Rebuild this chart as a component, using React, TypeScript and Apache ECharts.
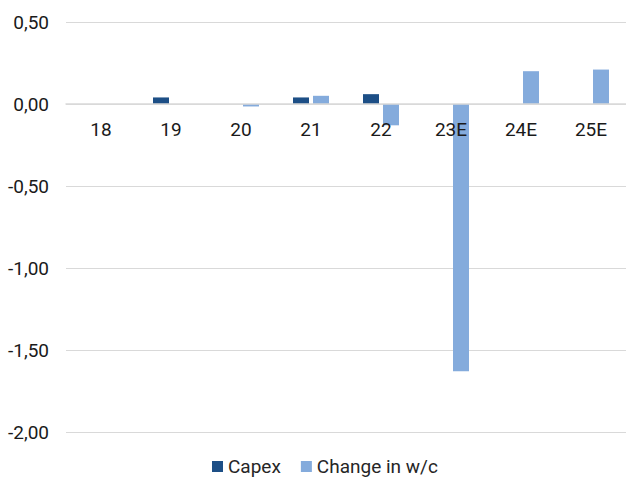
import React, { useEffect, useRef } from "react";
import * as echarts from "echarts";

const categories = ["18", "19", "20", "21", "22", "23E", "24E", "25E"];
const capex = [0, 0.04, 0, 0.04, 0.06, 0, 0, 0];
const changeWc = [0, 0, -0.015, 0.05, -0.13, -1.63, 0.2, 0.21];
const seriesNames = ["Capex", "Change in w/c"];

const Y_MIN = -2;
const Y_MAX = 0.5;
const GRID_TOP = 22;
const GRID_BOTTOM = 46;
const HEIGHT = 478;

export default function App() {
  const ref = useRef<HTMLDivElement>(null);
  useEffect(() => {
    const chart = echarts.init(ref.current!, undefined, { renderer: "svg" });
    const plotH = HEIGHT - GRID_TOP - GRID_BOTTOM;
    const zeroOffset = -(plotH * (0 - Y_MIN)) / (Y_MAX - Y_MIN);
    chart.setOption({
      animation: false,
      textStyle: { fontFamily: "Roboto" },
      grid: { left: 66, right: 0, top: GRID_TOP, bottom: GRID_BOTTOM },
      legend: {
        data: seriesNames,
        left: 207,
        top: 452,
        itemWidth: 11,
        itemHeight: 11,
        itemGap: 20,
        icon: "rect",
        textStyle: { fontSize: 19, color: "#262626", fontFamily: "Roboto" },
      },
      xAxis: {
        type: "category",
        data: categories,
        z: 5,
        offset: zeroOffset,
        axisLine: {
          show: true,
          onZero: false,
          lineStyle: { color: "#d9d9d9", width: 1.5 },
        },
        axisTick: { show: false },
        axisLabel: { fontSize: 19, color: "#1a1a1a", margin: 16 },
      },
      yAxis: {
        type: "value",
        min: Y_MIN,
        max: Y_MAX,
        interval: 0.5,
        axisLine: { show: false },
        axisTick: { show: false },
        splitLine: { lineStyle: { color: "#d9d9d9" } },
        axisLabel: {
          fontSize: 19,
          color: "#1a1a1a",
          margin: 17,
          formatter: (v: number) => v.toFixed(2).replace(".", ","),
        },
      },
      series: [
        {
          name: seriesNames[0],
          type: "bar",
          data: capex,
          barWidth: 16,
          barGap: "25%",
          itemStyle: { color: "#1D4F86" },
        },
        {
          name: seriesNames[1],
          type: "bar",
          data: changeWc,
          barWidth: 16,
          barGap: "25%",
          itemStyle: { color: "#84ABDC" },
        },
      ],
    });
    return () => chart.dispose();
  }, []);
  return (
    <div
      ref={ref}
      style={{ position: "absolute", left: 0, top: 0, width: 626, height: 478 }}
    />
  );
}
